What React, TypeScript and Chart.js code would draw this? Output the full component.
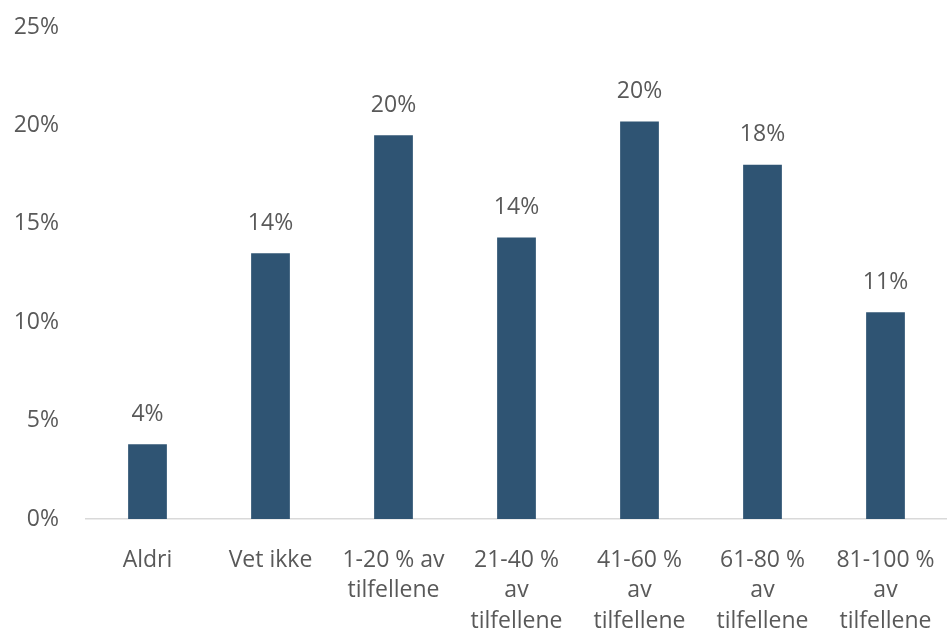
import React, { useEffect, useRef } from "react";
import { Chart, registerables } from "chart.js";

Chart.register(...registerables);

const categories: string[][] = [
  ["Aldri"],
  ["Vet ikke"],
  ["1-20 % av", "tilfellene"],
  ["21-40 %", "av", "tilfellene"],
  ["41-60 %", "av", "tilfellene"],
  ["61-80 %", "av", "tilfellene"],
  ["81-100 %", "av", "tilfellene"],
];
const values: number[] = [3.8, 13.5, 19.5, 14.3, 20.2, 18.0, 10.5];
const yTicks: number[] = [0, 5, 10, 15, 20, 25];

const FONT = "'Open Sans', 'Noto Sans', sans-serif";
const TEXT = "#595959";
const FS = 23;

const labelPlugin = {
  id: "barLabels",
  afterDatasetsDraw(chart: any) {
    const ctx = chart.ctx;
    const meta = chart.getDatasetMeta(0);
    ctx.save();
    ctx.font = `${FS}px ${FONT}`;
    ctx.fillStyle = TEXT;
    ctx.textAlign = "center";
    ctx.textBaseline = "middle";
    meta.data.forEach((bar: any, i: number) => {
      ctx.fillText(Math.round(values[i]) + "%", bar.x, bar.y - 30);
    });
    ctx.restore();
  },
};

export default function App() {
  const ref = useRef<HTMLCanvasElement>(null);
  useEffect(() => {
    if (!ref.current) return;
    const chart = new Chart(ref.current, {
      type: "bar",
      data: {
        labels: categories,
        datasets: [
          {
            data: values,
            backgroundColor: "#2F5473",
            categoryPercentage: 1,
            barPercentage: 0.315,
          },
        ],
      },
      options: {
        animation: false,
        responsive: true,
        maintainAspectRatio: false,
        layout: { padding: { left: 0, top: 27, right: 0, bottom: 0 } },
        plugins: { legend: { display: false }, tooltip: { enabled: false } },
        scales: {
          x: {
            grid: { display: false, drawTicks: false },
            border: { display: true, color: "#D9D9D9", width: 1.5 },
            ticks: {
              color: TEXT,
              font: { family: FONT, size: FS, lineHeight: 1.33 },
              padding: 26,
              maxRotation: 0,
              autoSkip: false,
            },
            afterFit: (scale: any) => {
              scale.height = 117;
              scale.paddingLeft = 0;
              scale.paddingRight = 0;
            },
          },
          y: {
            min: 0,
            max: 25,
            afterBuildTicks: (scale: any) => {
              scale.ticks = yTicks.map((v) => ({ value: v }));
            },
            grid: { display: false, drawTicks: false },
            border: { display: false },
            ticks: {
              color: TEXT,
              font: { family: FONT, size: FS },
              padding: 27,
              callback: (v: any) => v + "%",
            },
            afterFit: (scale: any) => {
              scale.width = 86;
              scale.paddingTop = 0;
              scale.paddingBottom = 0;
            },
          },
        },
      },
      plugins: [labelPlugin],
    });
    return () => chart.destroy();
  }, []);
  return (
    <div style={{ position: "fixed", left: 0, top: 0, width: 947, height: 636, background: "#fff" }}>
      <canvas ref={ref} />
    </div>
  );
}
